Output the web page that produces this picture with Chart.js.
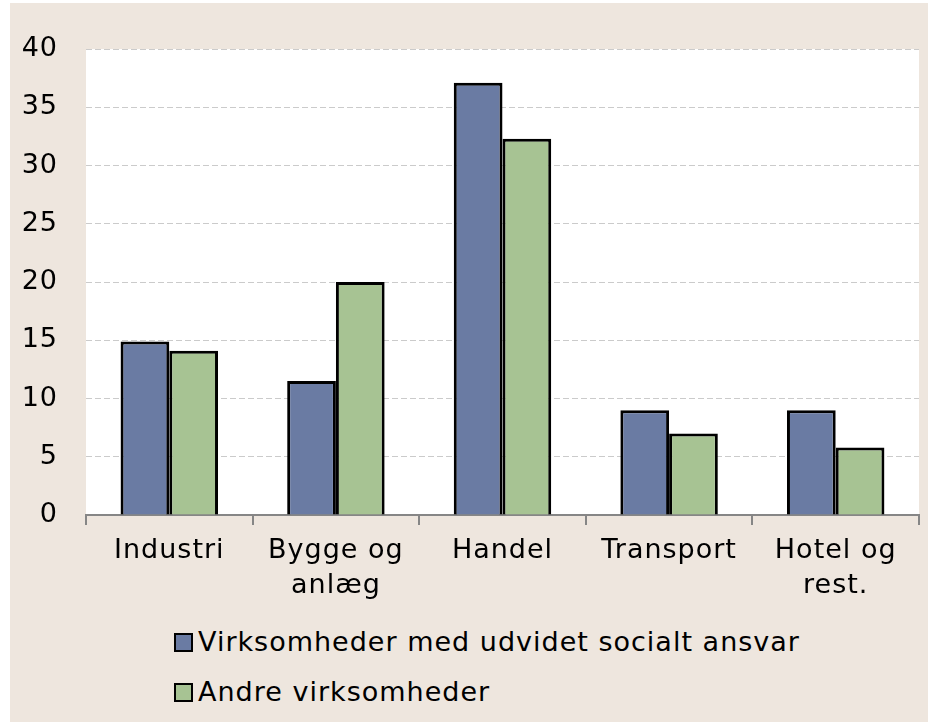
<!DOCTYPE html>
<html>
<head>
<meta charset="utf-8">
<script src="https://cdn.jsdelivr.net/npm/chart.js@4/dist/chart.umd.min.js"></script>
<style>
  html, body { margin: 0; padding: 0; background: #fff; }
  #panel { position: absolute; left: 10px; top: 3px; width: 918px; height: 719px; background: #eee6de; }
  #chart { position: absolute; left: 0; top: 0; }
  .legend { position: absolute; left: 164px; font-family: "DejaVu Sans", sans-serif; font-size: 27px; letter-spacing: 1px; color: #000; }
  .legend div { position: relative; height: 50px; line-height: 50px; white-space: nowrap; }
  .legend span.box { display: inline-block; width: 15px; height: 15px; border: 2px solid #000; margin-right: 5px; vertical-align: -1px; }
</style>
</head>
<body>
<div id="panel">
  <canvas id="chart" width="918" height="610"></canvas>
  <div class="legend" id="legend" style="top:614px"></div>
</div>
<script>
// Kategorier og værdier
const categories = ['Industri', ['Bygge og', 'anlæg'], 'Handel', 'Transport', ['Hotel og', 'rest.']];
const seriesNames = ['Virksomheder med udvidet socialt ansvar', 'Andre virksomheder'];
const socialtAnsvar = [14.9, 11.5, 37.1, 9.0, 9.0];
const andre = [14.1, 20.0, 32.3, 7.0, 5.8];
const colors = ['#6a7ba3', '#a7c393'];

const font = { family: '"DejaVu Sans", sans-serif', size: 27 };

const chart = new Chart(document.getElementById('chart'), {
    type: 'bar',
    data: {
        labels: categories,
        datasets: [
            { label: seriesNames[0], data: socialtAnsvar, backgroundColor: colors[0] },
            { label: seriesNames[1], data: andre, backgroundColor: colors[1] }
        ]
    },
    options: {
        responsive: false,
        animation: false,
        devicePixelRatio: 1,
        layout: { padding: { top: 46, right: 9, left: 0, bottom: 0 } },
        datasets: {
            bar: { categoryPercentage: 0.585, barPercentage: 1, borderWidth: 3, borderColor: '#000' }
        },
        plugins: {
            legend: { display: false },
            tooltip: { enabled: false }
        },
        scales: {
            x: {
                afterFit: s => { s.height = 98; },
                border: { color: '#868686', width: 2 },
                grid: { offset: true, drawOnChartArea: false, drawTicks: true, tickLength: 10, color: '#868686', lineWidth: 2 },
                ticks: { color: '#000', font: { ...font, lineHeight: 1.3 }, padding: 8, maxRotation: 0 }
            },
            y: {
                min: 0,
                max: 40,
                afterFit: s => { s.width = 76; },
                border: { display: false, dash: [6, 3] },
                grid: {
                    drawTicks: false,
                    color: ctx => ctx.tick.value === 0 ? 'rgba(0,0,0,0)' : '#cbcbcb',
                    lineWidth: 1
                },
                ticks: { stepSize: 5, color: '#000', font: font, padding: 28 }
            }
        }
    },
    plugins: [{
        id: 'plotBg',
        beforeDraw(c) {
            const a = c.chartArea;
            c.ctx.fillStyle = '#fff';
            c.ctx.fillRect(a.left, a.top, a.right - a.left, a.bottom - a.top);
            c.ctx.letterSpacing = '1px';
        }
    }]
});

// Forklaring under figuren
const legend = document.getElementById('legend');
seriesNames.forEach((name, i) => {
    const row = document.createElement('div');
    row.innerHTML = `<span class="box" style="background:${colors[i]}"></span>${name}`;
    legend.appendChild(row);
});
</script>
</body>
</html>
